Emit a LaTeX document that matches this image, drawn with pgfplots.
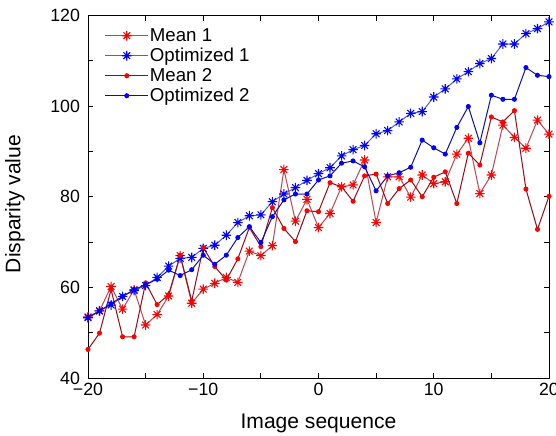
\documentclass[border=0pt]{standalone}
\usepackage{fontspec}
\setmainfont{Liberation Sans}
\usepackage{pgfplots}
\usepackage{pgfplotstable}
\pgfplotsset{compat=1.18}
\definecolor{mOneLine}{RGB}{185,70,80}
\definecolor{mTwoLine}{RGB}{150,10,20}
\definecolor{oOneLine}{RGB}{80,95,215}
\definecolor{oTwoLine}{RGB}{15,15,165}
\pgfdeclareplotmark{mstar}{%
  \pgfpathmoveto{\pgfqpoint{0pt}{\pgfplotmarksize}}%
  \pgfpathlineto{\pgfqpoint{0pt}{-\pgfplotmarksize}}%
  \pgfpathmoveto{\pgfqpoint{\pgfplotmarksize}{0pt}}%
  \pgfpathlineto{\pgfqpoint{-\pgfplotmarksize}{0pt}}%
  \pgfpathmoveto{\pgfqpoint{0.7\pgfplotmarksize}{0.7\pgfplotmarksize}}%
  \pgfpathlineto{\pgfqpoint{-0.7\pgfplotmarksize}{-0.7\pgfplotmarksize}}%
  \pgfpathmoveto{\pgfqpoint{0.7\pgfplotmarksize}{-0.7\pgfplotmarksize}}%
  \pgfpathlineto{\pgfqpoint{-0.7\pgfplotmarksize}{0.7\pgfplotmarksize}}%
  \pgfusepathqstroke}
\pgfplotstableread{
x m1 o1 m2 o2
-20 53.5 53.3 46.3 53.3
-19 54.8 54.8 49.9 54.8
-18 60.2 56.1 59.5 56.4
-17 55.2 58.0 49.1 58.0
-16 59.5 59.3 49.1 59.5
-15 51.7 60.4 61.0 60.6
-14 54.0 62.2 56.2 61.8
-13 58.1 64.7 58.4 63.8
-12 67.0 66.4 67.1 62.6
-11 56.5 66.6 57.0 63.9
-10 59.6 68.6 68.8 67.1
-9 60.9 69.3 64.6 65.1
-8 62.2 71.5 61.6 67.1
-7 61.1 74.3 66.3 71.0
-6 68.0 75.8 73.2 73.4
-5 67.0 76.0 69.0 69.9
-4 69.2 78.9 77.6 75.6
-3 86.0 80.6 73.0 79.3
-2 74.6 82.0 70.1 80.6
-1 79.4 83.6 76.9 80.6
0 73.2 85.1 76.7 83.7
1 76.3 86.4 83.1 84.6
2 82.2 89.0 82.2 87.4
3 82.6 90.4 79.0 87.9
4 88.1 91.3 84.6 86.6
5 74.3 93.9 85.0 81.3
6 84.4 94.6 78.5 84.6
7 84.4 96.5 81.8 85.3
8 79.9 98.4 83.7 86.5
9 84.8 98.8 80.0 92.5
10 82.9 102.0 84.3 90.8
11 83.3 103.8 85.5 89.4
12 89.4 106.0 78.5 95.3
13 92.9 107.6 89.6 99.9
14 80.7 109.4 87.0 91.9
15 84.8 110.5 97.6 102.4
16 95.8 113.7 96.5 101.5
17 93.1 113.7 99.0 101.5
18 90.7 116.0 81.7 108.5
19 96.9 117.1 72.8 106.8
20 93.8 118.6 80.1 106.5
}\datatable
\begin{document}
\begin{tikzpicture}
\begin{axis}[
  name=ax,
  scale only axis,
  width=345.75pt, height=271.9pt,
  xmin=-20, xmax=20, ymin=40, ymax=120,
  xtick={-20,-15,...,20},
  xticklabels={−20,,−10,,0,,10,,20},
  ytick={40,50,...,120},
  yticklabels={40,,60,,80,,100,,120},
  tick align=inside,
  major tick length=4pt,
  tick style={black, line width=0.6pt},
  axis line style={line width=0.6pt},
  ticklabel style={font=\fontsize{13.3}{15}\selectfont},
  yticklabel style={xshift=-2.5pt},
  /pgf/number format/assume math mode=true,
  xlabel={Image sequence},
  ylabel={Disparity value},
  every axis x label/.style={at={(axis description cs:0.5,-0.138)}, anchor=base, font=\fontsize{15.8}{18}\selectfont},
  every axis y label/.style={at={(axis description cs:-0.1583,0.48)}, rotate=90, anchor=center, font=\fontsize{15.8}{18}\selectfont},
  legend style={draw=none, fill=none, at={(axis description cs:0,1)}, anchor=north west,
    xshift=9.5pt, yshift=-5.5pt, font=\fontsize{14}{16}\selectfont,
    row sep=0pt, nodes={inner sep=1pt, text depth=2.5pt, text height=10.5pt},
    /tikz/every even column/.append style={column sep=3pt}},
  legend cell align=left,
  legend image code/.code={\draw[mark repeat=2,mark phase=2,#1] plot coordinates {(0pt,0pt) (16pt,0pt) (32pt,0pt)};},
]
\addplot[color=mOneLine, line width=0.75pt, mark=mstar, mark size=3.6pt, mark options={red, line width=0.8pt}] table[x=x,y=m1] {\datatable};
\addlegendentry{Mean 1}
\addplot[color=oOneLine, line width=0.75pt, mark=mstar, mark size=3.6pt, mark options={blue, line width=0.8pt}] table[x=x,y=o1] {\datatable};
\addlegendentry{Optimized 1}
\addplot[color=mTwoLine, line width=0.75pt, mark=*, mark size=1.5pt, mark options={red, draw=red}] table[x=x,y=m2] {\datatable};
\addlegendentry{Mean 2}
\addplot[color=oTwoLine, line width=0.75pt, mark=*, mark size=1.5pt, mark options={blue, draw=blue}] table[x=x,y=o2] {\datatable};
\addlegendentry{Optimized 2}
\end{axis}
\pgfresetboundingbox
\path ([xshift=-66pt,yshift=-42.75pt]ax.south west) rectangle ([xshift=5.25pt,yshift=11.6pt]ax.north east);
\end{tikzpicture}
\end{document}
